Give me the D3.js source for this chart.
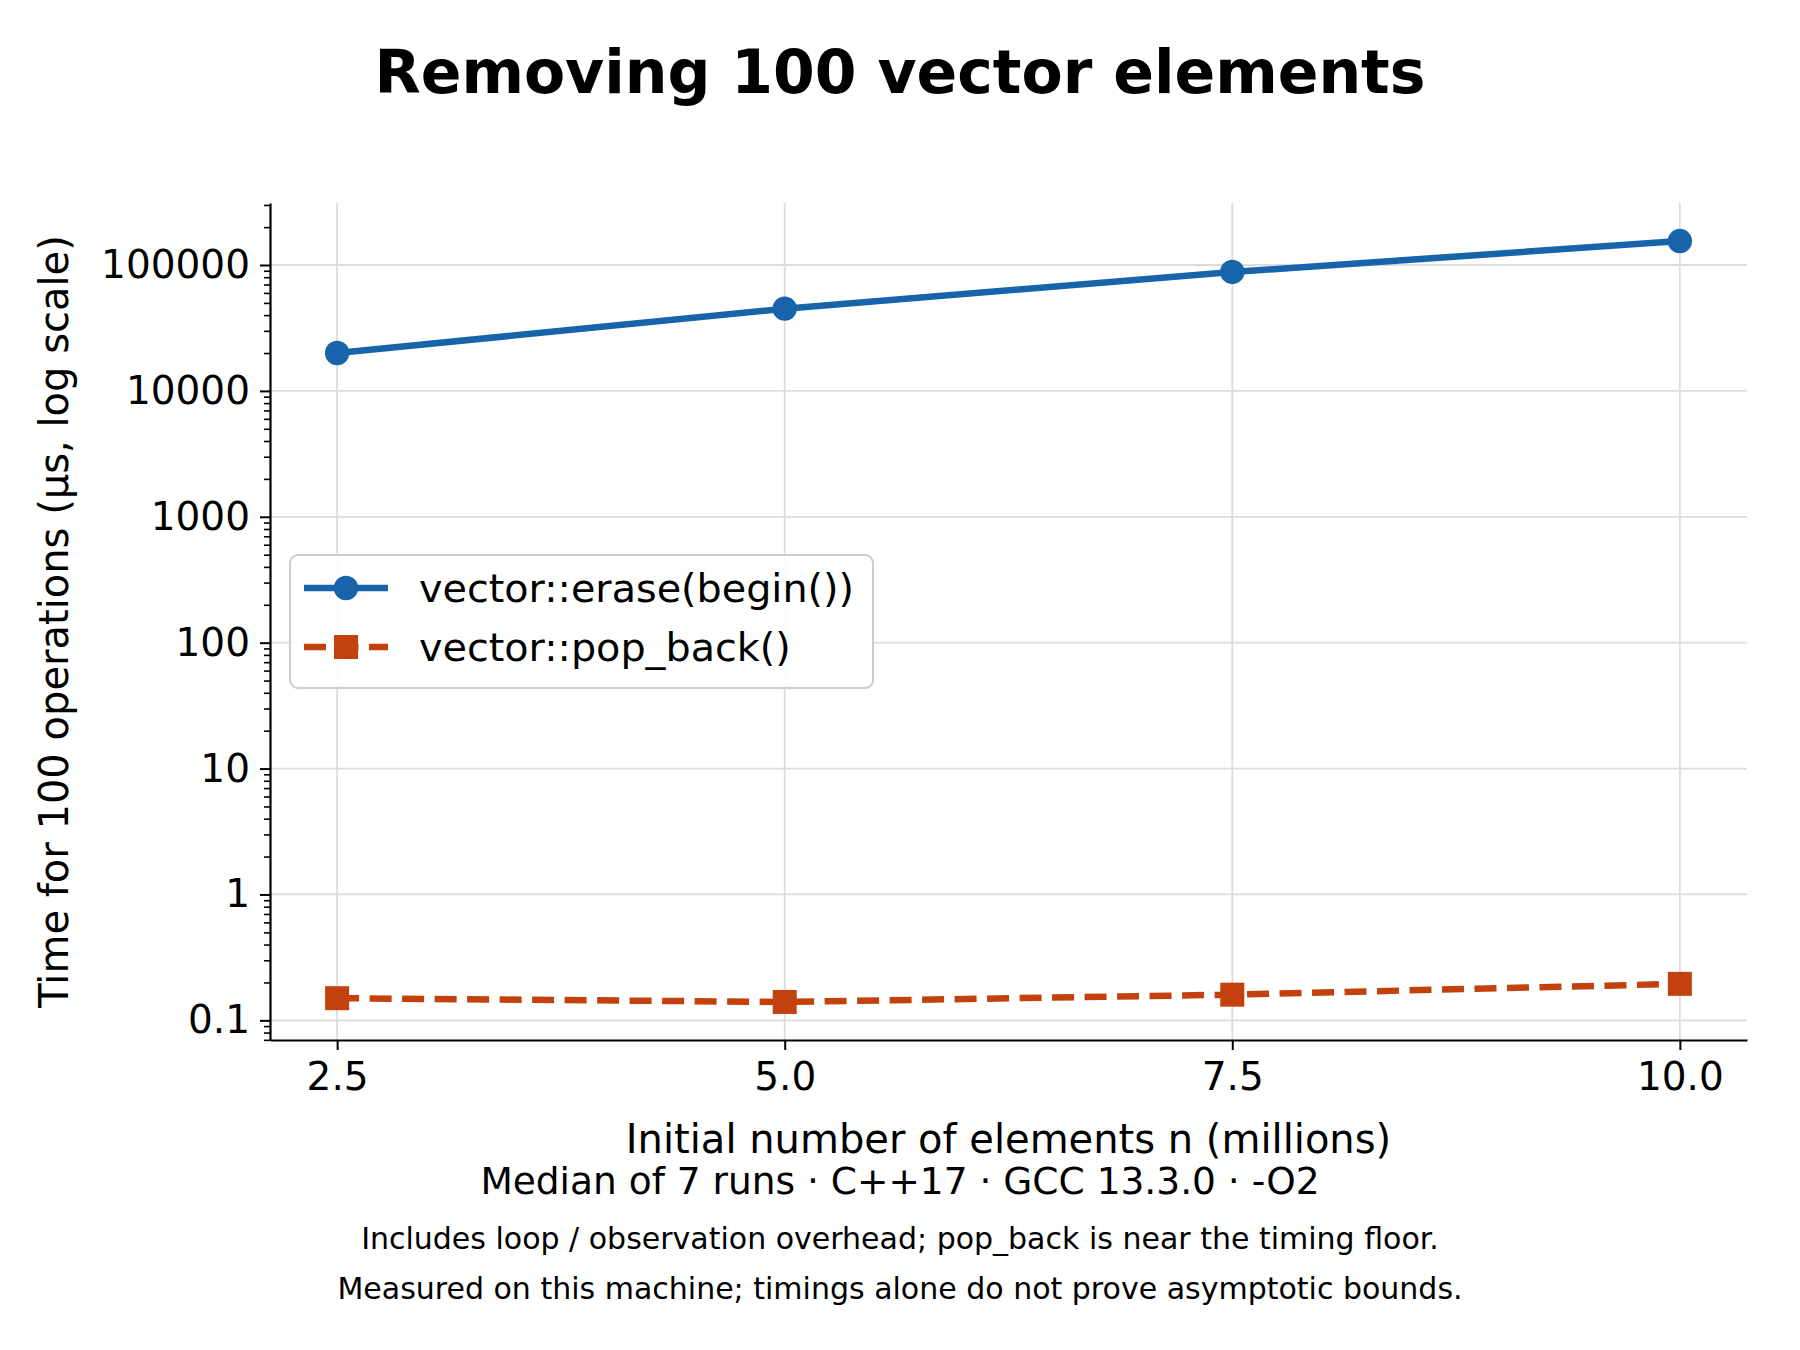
<!DOCTYPE html>
<html>
<head>
<meta charset="utf-8">
<script src="https://cdn.jsdelivr.net/npm/d3@7"></script>
<style>
  body { margin: 0; background: #fff; }
  svg { display: block; font-family: "DejaVu Sans", sans-serif; }
</style>
</head>
<body>
<div id="chart"></div>
<script>
// Data
const sizes = [2.5, 5.0, 7.5, 10.0]; // millions of elements
const eraseTimes = [20000, 45000, 88000, 155000]; // µs per 100 ops
const popBackTimes = [0.15, 0.14, 0.16, 0.195];
const xTicks = [2.5, 5.0, 7.5, 10.0];
const yTicks = [0.1, 1, 10, 100, 1000, 10000, 100000];
const seriesNames = ["vector::erase(begin())", "vector::pop_back()"];
const footnotes = [
  "Includes loop / observation overhead; pop_back is near the timing floor.",
  "Measured on this machine; timings alone do not prove asymptotic bounds.",
];

const width = 1800;
const height = 1350;
const margin = { left: 270, right: 1747, top: 203, bottom: 1040 };

const blue = "#1864ab";
const orange = "#c2410c";

const svg = d3
  .select("#chart")
  .append("svg")
  .attr("width", width)
  .attr("height", height)
  .attr("viewBox", `0 0 ${width} ${height}`);

svg.append("rect").attr("width", width).attr("height", height).attr("fill", "#fff");

// Scales, with matplotlib-like 5% padding
const xMin = d3.min(sizes), xMax = d3.max(sizes);
const xPad = (xMax - xMin) * 0.05;
const xscale = d3
  .scaleLinear()
  .domain([xMin - xPad, xMax + xPad])
  .range([margin.left, margin.right]);

const allY = eraseTimes.concat(popBackTimes);
const lMin = Math.log10(d3.min(allY)), lMax = Math.log10(d3.max(allY));
const lPad = (lMax - lMin) * 0.05;
const yscale = d3
  .scaleLog()
  .domain([Math.pow(10, lMin - lPad), Math.pow(10, lMax + lPad)])
  .range([margin.bottom, margin.top]);

// Gridlines
const grid = svg.append("g").attr("stroke", "#dcdcdc").attr("stroke-width", 1.8);
grid
  .selectAll("line.gx")
  .data(xTicks)
  .enter()
  .append("line")
  .attr("x1", (d) => xscale(d))
  .attr("x2", (d) => xscale(d))
  .attr("y1", margin.top)
  .attr("y2", margin.bottom);
grid
  .selectAll("line.gy")
  .data(yTicks)
  .enter()
  .append("line")
  .attr("x1", margin.left)
  .attr("x2", margin.right)
  .attr("y1", (d) => yscale(d))
  .attr("y2", (d) => yscale(d));

// Axes
const xAxis = svg
  .append("g")
  .attr("transform", `translate(0,${margin.bottom})`)
  .call(
    d3
      .axisBottom(xscale)
      .tickValues(xTicks)
      .tickFormat(d3.format(".1f"))
      .tickSize(10)
      .tickSizeOuter(0)
      .tickPadding(12)
  );
xAxis.select(".domain").attr("stroke-width", 2.2);
xAxis.selectAll(".tick line").attr("stroke-width", 2);
xAxis.selectAll("text").attr("font-size", 39).attr("font-family", "DejaVu Sans").attr("fill", "#000");

// minor log ticks
const minorTicks = yscale.ticks().filter((t) => yTicks.indexOf(t) < 0);
const yMinor = svg
  .append("g")
  .attr("transform", `translate(${margin.left},0)`)
  .call(d3.axisLeft(yscale).tickValues(minorTicks).tickFormat("").tickSize(6).tickSizeOuter(0));
yMinor.select(".domain").remove();
yMinor.selectAll(".tick line").attr("stroke-width", 1.6);

const yAxis = svg
  .append("g")
  .attr("transform", `translate(${margin.left},0)`)
  .call(
    d3
      .axisLeft(yscale)
      .tickValues(yTicks)
      .tickFormat((d) => String(d))
      .tickSize(10)
      .tickSizeOuter(0)
      .tickPadding(10)
  );
yAxis.select(".domain").attr("stroke-width", 2.2);
yAxis.selectAll(".tick line").attr("stroke-width", 2);
yAxis.selectAll("text").attr("font-size", 39).attr("font-family", "DejaVu Sans").attr("fill", "#000");

// Lines
const line = d3
  .line()
  .x((d) => xscale(d[0]))
  .y((d) => yscale(d[1]));

const popData = d3.zip(sizes, popBackTimes);
const eraseData = d3.zip(sizes, eraseTimes);

svg
  .append("path")
  .datum(popData)
  .attr("d", line)
  .attr("fill", "none")
  .attr("stroke", orange)
  .attr("stroke-width", 6.5)
  .attr("stroke-dasharray", "22,10.5");

svg
  .selectAll("rect.pop")
  .data(popData)
  .enter()
  .append("rect")
  .attr("class", "pop")
  .attr("x", (d) => xscale(d[0]) - 12)
  .attr("y", (d) => yscale(d[1]) - 12)
  .attr("width", 24)
  .attr("height", 24)
  .attr("fill", orange);

svg
  .append("path")
  .datum(eraseData)
  .attr("d", line)
  .attr("fill", "none")
  .attr("stroke", blue)
  .attr("stroke-width", 6.5);

svg
  .selectAll("circle.erase")
  .data(eraseData)
  .enter()
  .append("circle")
  .attr("class", "erase")
  .attr("cx", (d) => xscale(d[0]))
  .attr("cy", (d) => yscale(d[1]))
  .attr("r", 12.2)
  .attr("fill", blue);

// Legend
const legend = svg.append("g").attr("transform", "translate(290,555)");
legend
  .append("rect")
  .attr("width", 583)
  .attr("height", 133)
  .attr("rx", 8)
  .attr("fill", "#fff")
  .attr("fill-opacity", 0.9)
  .attr("stroke", "#cccccc")
  .attr("stroke-width", 2);

const rows = [
  { name: seriesNames[0], color: blue, dash: null, y: 33 },
  { name: seriesNames[1], color: orange, dash: "22,10.5", y: 92 },
];
rows.forEach((r, i) => {
  legend
    .append("line")
    .attr("x1", 14)
    .attr("x2", 98)
    .attr("y1", r.y)
    .attr("y2", r.y)
    .attr("stroke", r.color)
    .attr("stroke-width", 6.5)
    .attr("stroke-dasharray", r.dash);
  if (i === 0) {
    legend.append("circle").attr("cx", 56).attr("cy", r.y).attr("r", 12.2).attr("fill", r.color);
  } else {
    legend
      .append("rect")
      .attr("x", 44)
      .attr("y", r.y - 12)
      .attr("width", 24)
      .attr("height", 24)
      .attr("fill", r.color);
  }
  legend
    .append("text")
    .attr("x", 129)
    .attr("y", r.y + 14)
    .attr("font-size", 39.7)
    .attr("fill", "#000")
    .text(r.name);
});

// Titles and labels
svg
  .append("text")
  .attr("x", width / 2)
  .attr("y", 93)
  .attr("text-anchor", "middle")
  .attr("font-size", 60)
  .attr("font-weight", "bold")
  .text("Removing 100 vector elements");

svg
  .append("text")
  .attr("transform", `translate(68,${(margin.top + margin.bottom) / 2}) rotate(-90)`)
  .attr("text-anchor", "middle")
  .attr("font-size", 40)
  .text("Time for 100 operations (µs, log scale)");

svg
  .append("text")
  .attr("x", (margin.left + margin.right) / 2)
  .attr("y", 1153)
  .attr("text-anchor", "middle")
  .attr("font-size", 40)
  .text("Initial number of elements n (millions)");

svg
  .append("text")
  .attr("x", width / 2)
  .attr("y", 1194)
  .attr("text-anchor", "middle")
  .attr("font-size", 37.5)
  .text("Median of 7 runs · C++17 · GCC 13.3.0 · -O2");

svg
  .selectAll("text.note")
  .data(footnotes)
  .enter()
  .append("text")
  .attr("class", "note")
  .attr("x", width / 2)
  .attr("y", (d, i) => 1249 + i * 50)
  .attr("text-anchor", "middle")
  .attr("font-size", 30)
  .text((d) => d);
</script>
</body>
</html>
